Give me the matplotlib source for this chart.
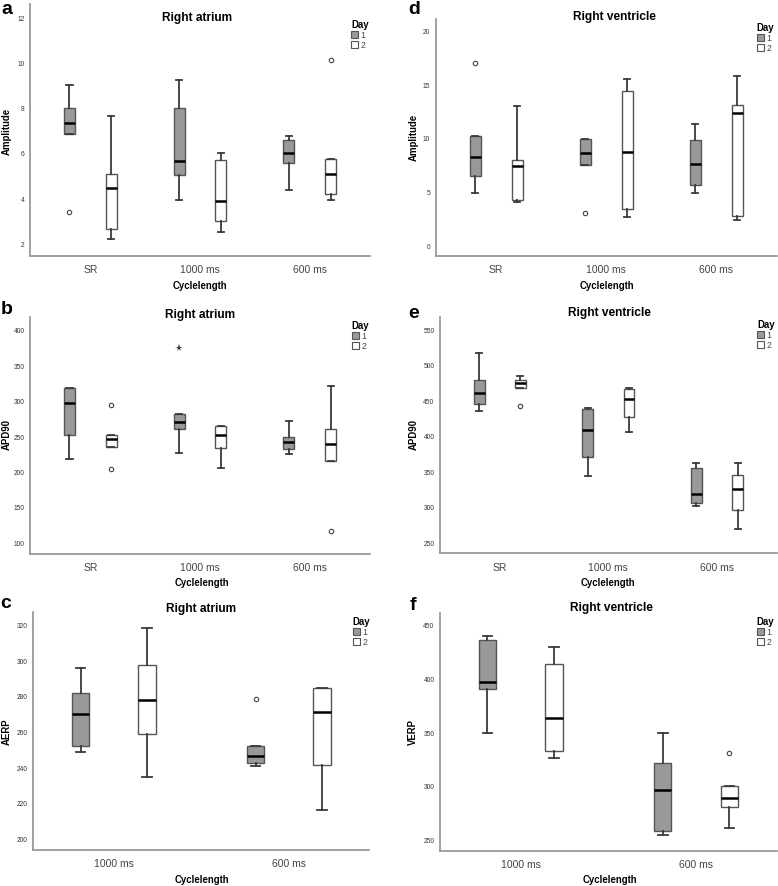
import matplotlib
matplotlib.use('Agg')
import matplotlib.pyplot as plt
from matplotlib.patches import Patch

plt.rcParams['font.family'] = ['Liberation Sans', 'DejaVu Sans']

W, H = 778, 887

# five-number summaries per category: [whisker low, q1, median, q3, whisker high]
cats3 = ['SR', '1000 ms', '600 ms']
cats2 = ['1000 ms', '600 ms']

amp_ra_day1 = [[6.82, 6.82, 7.32, 7.99, 9.02], [3.93, 5.01, 5.64, 8.0, 9.24], [4.36, 5.57, 6.01, 6.59, 6.73]]
amp_ra_day2 = [[2.19, 2.63, 4.45, 5.05, 7.65], [2.50, 2.97, 3.86, 5.67, 6.0], [3.92, 4.17, 5.07, 5.72, 5.72]]
amp_ra_out1 = [[3.4], [], []]
amp_ra_out2 = [[], [], [10.1]]

amp_rv_day1 = [[4.86, 6.47, 8.27, 10.2, 10.2], [7.52, 7.52, 8.58, 9.95, 9.95], [4.86, 5.67, 7.62, 9.81, 11.3]]
amp_rv_day2 = [[4.09, 4.27, 7.37, 7.99, 12.97], [2.69, 3.44, 8.73, 14.37, 15.48], [2.38, 2.72, 12.32, 13.07, 15.79]]
amp_rv_out1 = [[17.0], [3.07], []]
amp_rv_out2 = [[], [], []]

apd_ra_day1 = [[217, 252, 297, 317.7, 317.7], [226, 260, 270, 281.5, 281.5], [224.3, 231.3, 241.6, 249.1, 271]]
apd_ra_day2 = [[234.5, 234.5, 245.3, 251.4, 251.4], [204.4, 233.6, 251.4, 264, 264], [214.9, 214.9, 239.3, 259.4, 321]]
apd_ra_out1 = [[], [374.6], []]
apd_ra_out2 = [[294.2, 203], [], [116]]
apd_ra_star = [False, True, False]

apd_rv_day1 = [[434.8, 444.7, 460.7, 479, 517.1], [343.1, 369.5, 408, 438, 439], [300.8, 305.5, 317.7, 354.4, 361.5]]
apd_rv_day2 = [[467.7, 467.7, 474.3, 478.5, 484.7], [406.1, 425.9, 452.2, 466.3, 467.7], [268.9, 295.2, 324.8, 345.5, 361.9]]
apd_rv_out1 = [[], [], []]
apd_rv_out2 = [[441.9], [], []]

aerp_day1 = [[248.8, 252, 270.1, 281.7, 295.9], [240.7, 242.4, 246.5, 252, 252]]
aerp_day2 = [[234.6, 258.5, 277.9, 297.6, 317.9], [216.1, 241.3, 271, 284.7, 284.7]]
aerp_out1 = [[], [278.1]]
aerp_out2 = [[], []]

verp_day1 = [[348.9, 389.8, 396.7, 436, 439.5], [254.3, 258.4, 295.9, 321, 349.5]]
verp_day2 = [[326, 332.5, 363.2, 413.1, 428.9], [261.2, 280.1, 289.1, 300.4, 300.4]]
verp_out1 = [[], []]
verp_out2 = [[], [330.3]]

FILL1 = '#999999'
EDGE = '#555555'


def stats_for(five, outs):
    res = []
    for f, o in zip(five, outs):
        res.append(dict(whislo=f[0], q1=f[1], med=f[2], q3=f[3], whishi=f[4], fliers=o))
    return res


def add_ax(fig, left, top, right, bottom):
    return fig.add_axes([left / W, 1 - bottom / H, (right - left) / W, (bottom - top) / H])


def ftext(fig, x, y, s, **kw):
    fig.text(x / W, 1 - y / H, s, **kw)


def panel(fig, box, cats, day1, day2, out1, out2, ylim, yticks, ylabel, letter,
          letter_xy, title, title_xy, ylab_xy, xlab_xy, leg_xy, star=None):
    ax = add_ax(fig, *box)
    n = len(cats)
    pos = list(range(n))
    for k, (five, outs, fill) in enumerate([(day1, out1, FILL1), (day2, out2, 'white')]):
        off = -0.19 if k == 0 else 0.19
        st = stats_for(five, outs)
        if star is not None and k == 0:
            # extreme values drawn as stars afterwards
            for s_, is_star in zip(st, star):
                if is_star:
                    s_['fliers'] = []
        ax.bxp(st, positions=[p + off for p in pos], widths=0.1, capwidths=0.055,
               patch_artist=True, showfliers=True,
               boxprops=dict(facecolor=fill, edgecolor=EDGE, linewidth=1.0),
               medianprops=dict(color='black', linewidth=1.8),
               whiskerprops=dict(color='#3a3a3a', linewidth=1.3),
               capprops=dict(color='#3a3a3a', linewidth=1.3),
               flierprops=dict(marker='o', markersize=3.2, markerfacecolor='white',
                               markeredgecolor='#444444', markeredgewidth=0.8))
        if star is not None and k == 0:
            for p, o, is_star in zip(pos, outs, star):
                if is_star:
                    ax.plot([p + off] * len(o), o, marker='*', linestyle='none',
                            markersize=5.5, color='#333333', markeredgewidth=0)
    ax.set_xlim(-0.55 if n == 3 else -0.46, n - 0.45 if n == 3 else n - 0.54)
    ax.set_ylim(*ylim)
    ax.set_xticks(pos)
    ax.set_xticklabels(cats, fontsize=7.5, color='#444444')
    ax.set_yticks(yticks)
    ax.set_yticklabels([str(v) for v in yticks], fontsize=4.8, color='#333333')
    ax.tick_params(length=0)
    ax.tick_params(axis='x', pad=6)
    ax.tick_params(axis='y', pad=4)
    for s in ['top', 'right']:
        ax.spines[s].set_visible(False)
    for s in ['left', 'bottom']:
        ax.spines[s].set_color('#9a9a9a')
        ax.spines[s].set_linewidth(1.3)
    ftext(fig, *letter_xy, letter, fontsize=14, fontweight='bold', ha='center', va='center')
    ftext(fig, *title_xy, title, fontsize=8.6, fontweight='bold', ha='center', va='center')
    ftext(fig, *ylab_xy, ylabel, fontsize=6.9, fontweight='bold', ha='center', va='center',
          rotation=90)
    ftext(fig, *xlab_xy, 'Cyclelength', fontsize=6.9, fontweight='bold', ha='center', va='center')
    handles = [Patch(facecolor=FILL1, edgecolor=EDGE, linewidth=0.8),
               Patch(facecolor='white', edgecolor=EDGE, linewidth=0.8)]
    leg = ax.legend(handles, ['1', '2'], title='Day', loc='upper left',
                    bbox_to_anchor=(leg_xy[0] / W, 1 - leg_xy[1] / H),
                    bbox_transform=fig.transFigure, frameon=False, fontsize=6.3,
                    handlelength=0.85, handleheight=0.85, handletextpad=0.25,
                    labelspacing=0.12, borderpad=0, borderaxespad=0, alignment='left',
                    title_fontproperties=dict(size=6.9, weight='bold'))
    for t in leg.get_texts():
        t.set_color('#444444')
    return ax


fig = plt.figure(figsize=(W / 100, H / 100), dpi=100)

panel(fig, (30, 5, 370, 257), cats3, amp_ra_day1, amp_ra_day2, amp_ra_out1, amp_ra_out2,
      (1.44, 12.59), [2, 4, 6, 8, 10, 12], 'Amplitude', 'a', (7, 10), 'Right atrium', (197, 18.3),
      (6.7, 131.7), (200, 285.7), (351, 20))
panel(fig, (30, 318.3, 370, 555), cats3, apd_ra_day1, apd_ra_day2, apd_ra_out1, apd_ra_out2,
      (83.6, 417.4), [100, 150, 200, 250, 300, 350, 400], 'APD90', 'b', (7, 309), 'Right atrium',
      (200, 315), (6.7, 435), (201.7, 583.3), (351.7, 321), star=apd_ra_star)
panel(fig, (33.3, 613.3, 369.3, 850.7), cats2, aerp_day1, aerp_day2, aerp_out1, aerp_out2,
      (193.8, 326.9), [200, 220, 240, 260, 280, 300, 320], 'AERP', 'c', (6, 604), 'Right atrium',
      (200.7, 609.3), (6.7, 731.7), (201.7, 879.7), (352.7, 617))
panel(fig, (435.7, 20, 776.7, 256.7), cats3, amp_rv_day1, amp_rv_day2, amp_rv_out1, amp_rv_out2,
      (-0.93, 21.05), [0, 5, 10, 15, 20], 'Amplitude', 'd', (414, 9), 'Right ventricle', (614, 17.3),
      (413.3, 137), (606.7, 285.7), (756.7, 23))
panel(fig, (440, 318.3, 776.7, 554.3), cats3, apd_rv_day1, apd_rv_day2, apd_rv_out1, apd_rv_out2,
      (234.5, 567), [250, 300, 350, 400, 450, 500, 550], 'APD90', 'e', (414, 313), 'Right ventricle',
      (609, 312.7), (413.3, 435), (608.3, 583.3), (757, 320))
panel(fig, (440, 614.3, 776.7, 851.7), cats2, verp_day1, verp_day2, verp_out1, verp_out2,
      (239.8, 460.5), [250, 300, 350, 400, 450], 'VERP', 'f', (413, 605), 'Right ventricle',
      (611.7, 607.7), (413.3, 731.7), (610, 880), (756.7, 617))

fig.savefig('out.png', dpi=100)
